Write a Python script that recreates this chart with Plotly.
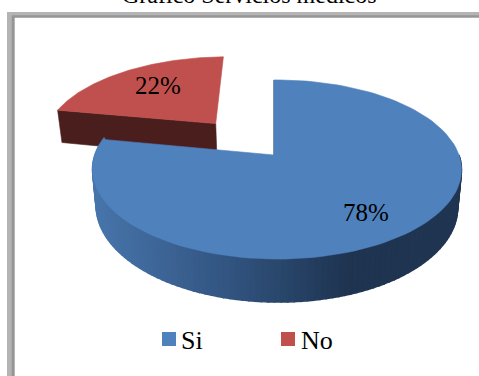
import numpy as np
import plotly.graph_objects as go

categories = ["Si", "No"]
percentages = [78, 22]
title_text = "Gráfico Servicios médicos"
label_size = 25
legend_size = 26
title_size = 24
colors = {"Si": "#4F81BD", "No": "#C0504D", "NoSide": "#4B1E1E"}

W, H = 479, 376
X0, Y0, A, B, KV, JU = 274.0, 155.0, 182.0, 87.2, 0.162, -0.016
DEPTH, DEPTH_SCALE = 36.0, 0.98
LEGEND_X = [169, 288]
LEGEND_Y = 339
LEGEND_TEXT_X = [181, 301]


def project(u, v, lower=False):
    d = 1 + KV * v + JU * u
    x = X0 + A * u / d
    y = Y0 - B * v / d
    if lower:
        x = X0 + (x - X0) * DEPTH_SCALE
        y = y + DEPTH / d
    return x, y


def arc(a0, a1, off=(0.0, 0.0), n=120):
    t = np.radians(np.linspace(a0, a1, n))
    return np.sin(t) + off[0], np.cos(t) + off[1]


a_si = percentages[0] / sum(percentages) * 360
mid_no = np.radians((a_si + 360) / 2 - 2.0)
explode = 0.515
off = (explode * np.sin(mid_no), explode * np.cos(mid_no))

fig = go.Figure()


def poly(x, y, color, name=None, lw=0.6):
    fig.add_trace(go.Scatter(x=np.asarray(x), y=np.asarray(y), mode="lines", fill="toself",
                             fillcolor=color, line=dict(color=color, width=lw),
                             hoverinfo="skip", showlegend=False, name=name))


# red wedge: cut side, then top
cx, cy = project(off[0], off[1])
lx, ly = project(*[c[0] for c in arc(a_si, a_si, off, 1)])
cxb, cyb = project(off[0], off[1], True)
lxb, lyb = project(*[c[0] for c in arc(a_si, a_si, off, 1)], True)
poly([lx, cx, cxb, lxb, lx], [ly, cy, cyb, lyb, ly], colors["NoSide"])
u, v = arc(a_si, 360, off)
x, y = project(u, v)
poly(np.r_[cx, x, cx], np.r_[cy, y, cy], colors["No"], "No")

# blue inner cut wall at the start edge
sx, sy = project(0, 1)
ax, ay = project(0, 0)
sxb, syb = project(0, 1, True)
axb, ayb = project(0, 0, True)
poly([sx, ax, axb, sxb, sx], [sy, ay, ayb, syb, sy], "#1F3550")

# blue outer wall as gradient strips
stops_x = [92, 230, 350, 470]
stops_r = [72, 50, 30, 33]
stops_g = [118, 84, 52, 54]
stops_b = [172, 128, 80, 82]
t = np.linspace(90, 282, 110)
for a0, a1 in zip(t[:-1], t[1:]):
    u0, v0 = arc(a0, a1, n=6)
    xt, yt = project(u0, v0)
    xb, yb = project(u0, v0, True)
    xm = xt.mean()
    c = "rgb(%d,%d,%d)" % (np.interp(xm, stops_x, stops_r), np.interp(xm, stops_x, stops_g), np.interp(xm, stops_x, stops_b))
    poly(np.r_[xt, xb[::-1], xt[0]], np.r_[yt, yb[::-1], yt[0]], c, lw=1.5)

# blue top
u, v = arc(0, a_si)
x, y = project(u, v)
poly(np.r_[ax, x, ax], np.r_[ay, y, ay], colors["Si"], "Si")

# legend entries
for name, lx0, tx0 in zip(categories, LEGEND_X, LEGEND_TEXT_X):
    fig.add_trace(go.Scatter(x=[lx0], y=[LEGEND_Y], mode="markers", name=name,
                             hoverinfo="skip", showlegend=False,
                             marker=dict(symbol="square", size=14, color=colors[name])))
    fig.add_annotation(x=tx0, y=LEGEND_Y + 1, text=name, showarrow=False, xanchor="left", xshift=-2,
                       font=dict(family="Liberation Serif", size=legend_size, color="#000"))

fig.add_annotation(x=366, y=212, text=f"{percentages[0]}%", showarrow=False,
                   font=dict(family="Liberation Serif", size=label_size, color="#000"))
fig.add_annotation(x=158, y=85, text=f"{percentages[1]}%", showarrow=False,
                   font=dict(family="Liberation Serif", size=label_size, color="#000"))
fig.add_annotation(x=249, y=10, text=title_text, showarrow=False, yanchor="bottom",
                   font=dict(family="Liberation Serif", size=title_size, color="#000"))

for (x0, y0, col) in [(7, 12, "#B4B4B4"), (11.7, 15.3, "#969696"), (14.7, 17.7, "#FFFFFF")]:
    fig.add_shape(type="rect", x0=x0, y0=y0, x1=520, y1=420, layer="below",
                  fillcolor=col, line=dict(width=0))

fig.update_layout(
    width=W, height=H, margin=dict(l=0, r=0, t=0, b=0, autoexpand=False), plot_bgcolor="white", paper_bgcolor="white",
    xaxis=dict(range=[0, W], visible=False, fixedrange=True),
    yaxis=dict(range=[H, 0], visible=False, fixedrange=True),
    showlegend=False,
)
fig.write_html("out.html", config={"displayModeBar": False},
               post_script="document.body.style.margin='0';document.documentElement.style.overflow='hidden';")
